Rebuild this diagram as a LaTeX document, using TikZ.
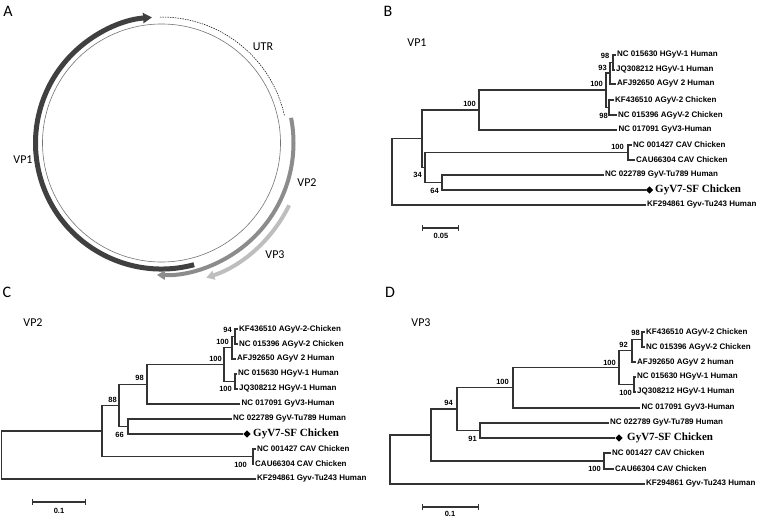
\documentclass[tikz,border=0pt]{standalone}
\usepackage{fontspec}
\setmainfont{Liberation Sans}
\newfontfamily\calib{Carlito}
\newfontfamily\tnr{Liberation Serif}
\usetikzlibrary{arrows.meta,shapes.geometric}
\definecolor{vpone}{HTML}{404040}
\definecolor{vptwo}{HTML}{8C8C8C}
\definecolor{vpthree}{HTML}{BEBEBE}
\begin{document}
\begin{tikzpicture}[x=1pt,y=-1pt,
  tree/.style={line width=1.1pt, draw=black!80},
  lab/.style={anchor=west, inner sep=1.5pt, font=\fontsize{8}{9}\selectfont\bfseries},
  bs/.style={anchor=east, inner sep=0pt, font=\fontsize{7.5}{8}\selectfont\bfseries},
  gyv/.style={anchor=west, inner sep=0pt, font=\tnr\fontsize{11}{12}\selectfont\bfseries},
  dia/.style={diamond, fill=black, inner sep=0pt, minimum size=7.5pt},
  ttl/.style={font=\calib\fontsize{12}{14}\selectfont, inner sep=0pt},
  plab/.style={font=\calib\fontsize{16}{18}\selectfont, inner sep=0pt},
  sbar/.style={tree, {Bar[width=6pt]}-{Bar[width=6pt]}},
  sblab/.style={inner sep=0pt, font=\fontsize{7.5}{8}\selectfont\bfseries}]
\useasboundingbox (0,0) rectangle (758,517);

% ---------------- Panel A ----------------
\node[plab] (pA) at (8,11) {A};
\coordinate (ctr) at (161.5,143);
\draw[line width=0.6pt, black!55] (ctr) circle[radius=119];
\draw[line width=5pt, draw=vpone, -{Triangle[length=9pt,width=10pt]}]
  ([shift={(75:126)}]ctr) arc[start angle=75, end angle=265.7, radius=126];
\draw[line width=0.5pt, dash pattern=on 1.5pt off 1pt]
  ([shift={(-90.7:126)}]ctr) arc[start angle=-90.7, end angle=-12.5, radius=126];
\draw[line width=4pt, draw=vptwo, -{Triangle[length=8pt,width=9pt]}]
  ([shift={(-11:132)}]ctr) arc[start angle=-11, end angle=92, radius=132];
\draw[line width=4pt, draw=vpthree, -{Triangle[length=8pt,width=9pt]}]
  ([shift={(26:142)}]ctr) arc[start angle=26, end angle=71.6, radius=142];
\node[ttl] (tVP1) at (23,160) {VP1};
\node[ttl] (tUTR) at (263,47) {UTR};
\node[ttl] (tVP2) at (307,183) {VP2};
\node[ttl] (tVP3) at (275,255) {VP3};

% ---------------- Panel B ----------------
\node[plab] (pB) at (388,11) {B};
\node[ttl] (ttB) at (417,43) {VP1};
\node[lab] (b1) at (615.5,55) {NC 015630 HGyV-1 Human};
\node[lab] (b2) at (614.5,70) {JQ308212 HGyV-1 Human};
\node[lab] (b3) at (615.5,84) {AFJ92650 AGyV 2 Human};
\node[lab] (b4) at (613.5,100) {KF436510 AGyV-2 Chicken};
\node[lab] (b5) at (616.5,115) {NC 015396 AGyV-2 Chicken};
\node[lab] (b6) at (617,130) {NC 017091 GyV3-Human};
\node[lab] (b7) at (631.5,145) {NC 001427 CAV Chicken};
\node[lab] (b8) at (634.5,160) {CAU66304 CAV Chicken};
\node[lab] (b9) at (603.5,175) {NC 022789 GyV-Tu789 Human};
\node[dia] (b10) at (649.5,190) {};
\node[gyv] (b10t) at (655,190) {GyV7-SF Chicken};
\node[lab] (b11) at (645.5,205) {KF294861 Gyv-Tu243 Human};
\coordinate (bA) at (613,62.5);
\coordinate (bH) at (610,73);
\coordinate (bC) at (609,107.5);
\coordinate (bR) at (606,90);
\coordinate (bB) at (479,110);
\coordinate (bV) at (628,152.5);
\coordinate (bN3) at (442,182.5);
\coordinate (bN2) at (425,167.5);
\coordinate (bN1) at (422,138.75);
\coordinate (bRoot) at (392,172);
\foreach \p/\c in {bA/b1.west,bA/b2.west,bH/bA,bH/b3.west,bC/b4.west,bC/b5.west,
  bR/bH,bR/bC,bB/bR,bB/b6.west,bV/b7.west,bV/b8.west,bN3/b9.west,bN3/b10.west,
  bN2/bV,bN2/bN3,bN1/bB,bN1/bN2,bRoot/bN1,bRoot/b11.west}
  \draw[tree] (\p) |- (\c);
\node[bs] (sB1) at (609.5,56) {98};
\node[bs] (sB2) at (607,68) {93};
\node[bs] (sB3) at (603,84) {100};
\node[bs] (sB4) at (608,116) {98};
\node[bs] (sB5) at (476,104) {100};
\node[bs] (sB6) at (624,147) {100};
\node[bs] (sB7) at (422,175) {34};
\node[bs] (sB8) at (439,191) {64};
\coordinate (sbBl) at (422,228);
\coordinate (sbBr) at (459,228);
\draw[sbar] (sbBl) -- (sbBr);
\node[sblab] (sbBt) at (441,236) {0.05};

% ---------------- Panel C ----------------
\node[plab] (pC) at (7,292) {C};
\node[ttl] (ttC) at (33,323) {VP2};
\node[lab] (c1) at (237.5,329) {KF436510 AGyV-2-Chicken};
\node[lab] (c2) at (237.5,344) {NC 015396 AGyV-2 Chicken};
\node[lab] (c3) at (235.5,359) {AFJ92650 AGyV 2 Human};
\node[lab] (c4) at (236.5,374) {NC 015630 HGyV-1 Human};
\node[lab] (c5) at (237.5,389) {JQ308212 HGyV-1 Human};
\node[lab] (c6) at (240,404) {NC 017091 GyV3-Human};
\node[lab] (c7) at (231.5,419) {NC 022789 GyV-Tu789 Human};
\node[dia] (c8) at (247,434) {};
\node[gyv] (c8t) at (253,434) {GyV7-SF Chicken};
\node[lab] (c9) at (255.5,449) {NC 001427 CAV Chicken};
\node[lab] (c10) at (253.5,464) {CAU66304 CAV Chicken};
\node[lab] (c11) at (255.5,479) {KF294861 Gyv-Tu243 Human};
\coordinate (cA) at (235,336.5);
\coordinate (cB) at (232,347.75);
\coordinate (cH) at (235,381.5);
\coordinate (cT) at (224,364.6);
\coordinate (c98) at (147,384.3);
\coordinate (c66) at (128,426.5);
\coordinate (c88) at (119,405.4);
\coordinate (cV) at (253,456.5);
\coordinate (cN) at (102,431);
\coordinate (cRoot) at (1.5,455);
\foreach \p/\c in {cA/c1.west,cA/c2.west,cB/cA,cB/c3.west,cH/c4.west,cH/c5.west,
  cT/cB,cT/cH,c98/cT,c98/c6.west,c66/c7.west,c66/c8.west,c88/c98,c88/c66,
  cV/c9.west,cV/c10.west,cN/c88,cN/cV,cRoot/cN,cRoot/c11.west}
  \draw[tree] (\p) |- (\c);
\node[bs] (sC1) at (232,330) {94};
\node[bs] (sC2) at (229,342) {100};
\node[bs] (sC3) at (222,359) {100};
\node[bs] (sC4) at (232,389) {100};
\node[bs] (sC5) at (144,378) {98};
\node[bs] (sC6) at (117,400) {88};
\node[bs] (sC7) at (124,435) {66};
\node[bs] (sC8) at (247,465) {100};
\coordinate (sbCl) at (32,502);
\coordinate (sbCr) at (86,502);
\draw[sbar] (sbCl) -- (sbCr);
\node[sblab] (sbCt) at (59,511) {0.1};

% ---------------- Panel D ----------------
\node[plab] (pD) at (390,292) {D};
\node[ttl] (ttD) at (421,323) {VP3};
\node[lab] (d1) at (644.5,332) {KF436510 AGyV-2 Chicken};
\node[lab] (d2) at (644.5,347) {NC 015396 AGyV-2 Chicken};
\node[lab] (d3) at (635.5,362) {AFJ92650 AGyV 2 human};
\node[lab] (d4) at (635.5,377) {NC 015630 HGyV-1 Human};
\node[lab] (d5) at (635.5,392) {JQ308212 HGyV-1 Human};
\node[lab] (d6) at (640,408) {NC 017091 GyV3-Human};
\node[lab] (d7) at (608.5,423) {NC 022789 GyV-Tu789 Human};
\node[dia] (d8) at (619,438) {};
\node[gyv] (d8t) at (627,438) {GyV7-SF Chicken};
\node[lab] (d9) at (610.5,453) {NC 001427 CAV Chicken};
\node[lab] (d10) at (613.5,469) {CAU66304 CAV Chicken};
\node[lab] (d11) at (644.5,484) {KF294861 Gyv-Tu243 Human};
\coordinate (dA) at (642,339.5);
\coordinate (dB) at (632,350.75);
\coordinate (dH) at (634,384.5);
\coordinate (dT) at (619,367.6);
\coordinate (d100) at (513,387.8);
\coordinate (d91) at (480,430.5);
\coordinate (d94) at (457,409);
\coordinate (dV) at (604,461);
\coordinate (dN) at (431,435);
\coordinate (dRoot) at (390,459.5);
\foreach \p/\c in {dA/d1.west,dA/d2.west,dB/dA,dB/d3.west,dH/d4.west,dH/d5.west,
  dT/dB,dT/dH,d100/dT,d100/d6.west,d91/d7.west,d91/d8.west,d94/d100,d94/d91,
  dV/d9.west,dV/d10.west,dN/d94,dN/dV,dRoot/dN,dRoot/d11.west}
  \draw[tree] (\p) |- (\c);
\node[bs] (sD1) at (640,333) {98};
\node[bs] (sD2) at (628,345) {92};
\node[bs] (sD3) at (616,363) {100};
\node[bs] (sD4) at (632,393) {100};
\node[bs] (sD5) at (509,382) {100};
\node[bs] (sD6) at (453,403) {94};
\node[bs] (sD7) at (477,439) {91};
\node[bs] (sD8) at (601,469) {100};
\coordinate (sbDl) at (422,507);
\coordinate (sbDr) at (479,507);
\draw[sbar] (sbDl) -- (sbDr);
\node[sblab] (sbDt) at (450,514) {0.1};
\end{tikzpicture}
\end{document}
